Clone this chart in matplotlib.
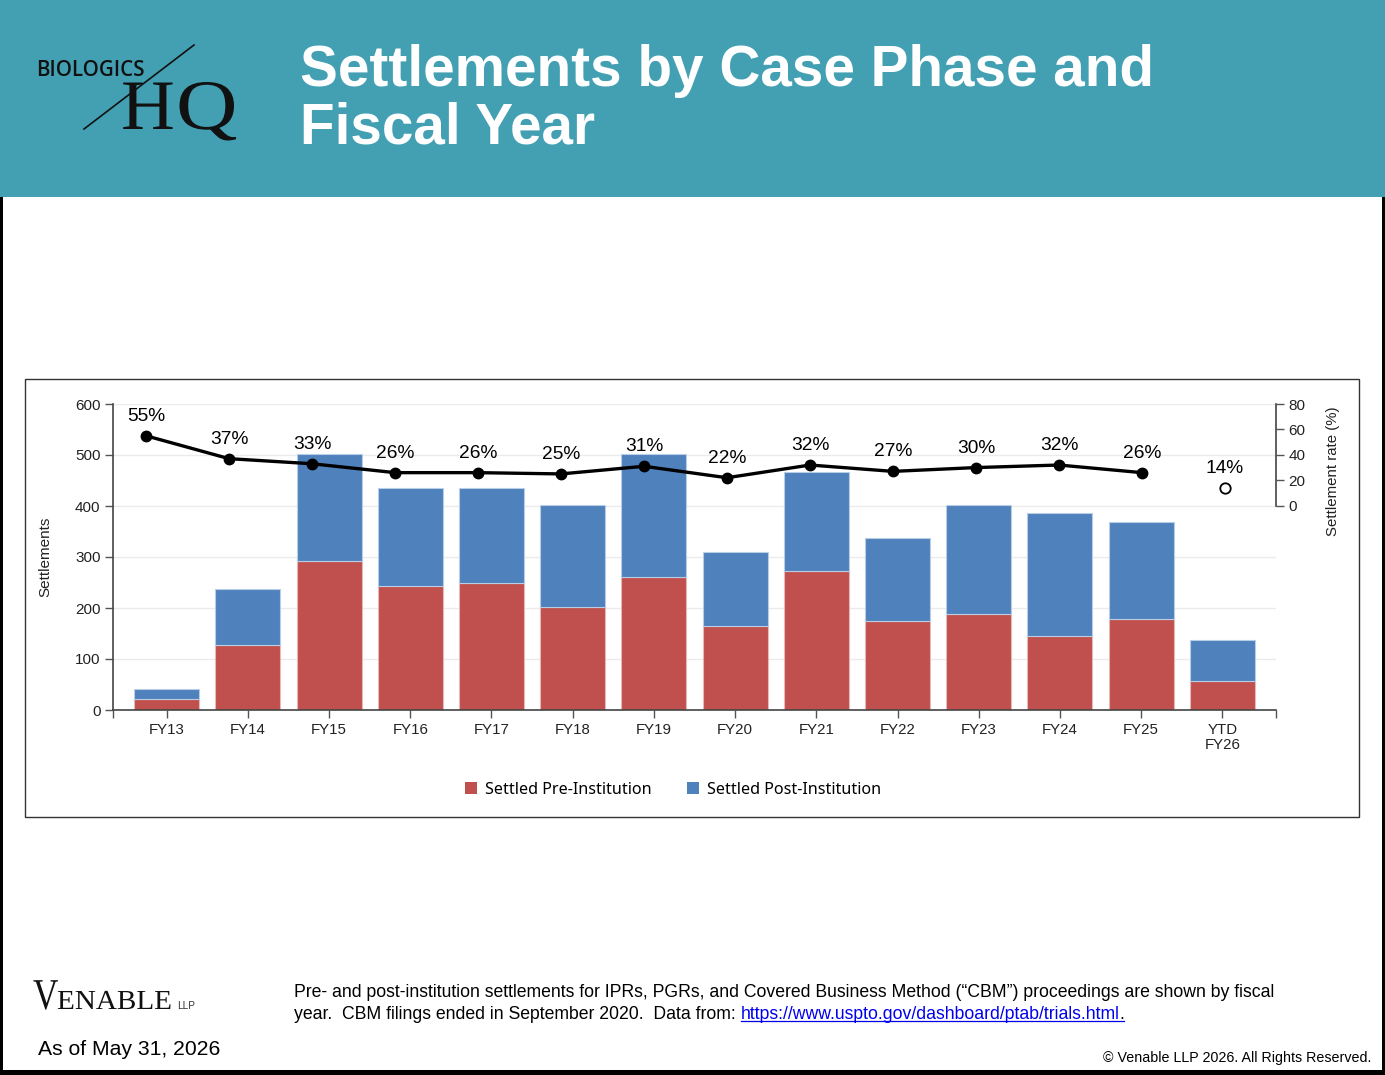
import matplotlib
matplotlib.use("Agg")
import matplotlib.pyplot as plt
import numpy as np
from matplotlib.patches import Rectangle, Patch, PathPatch
from matplotlib.lines import Line2D
from matplotlib.textpath import TextPath
from matplotlib.font_manager import FontProperties
from matplotlib.transforms import Affine2D

# ---------------- data ----------------
categories = ["FY13", "FY14", "FY15", "FY16", "FY17", "FY18", "FY19",
              "FY20", "FY21", "FY22", "FY23", "FY24", "FY25", "YTD\nFY26"]
pre_institution = [21, 127, 292, 243, 250, 201, 260, 164, 272, 174, 189, 146, 178, 56]
total_settled = [41, 237, 502, 436, 436, 401, 502, 309, 466, 338, 401, 387, 368, 137]
post_institution = [t - p for t, p in zip(total_settled, pre_institution)]
settlement_rate = [55, 37, 33, 26, 26, 25, 31, 22, 32, 27, 30, 32, 26]
ytd_rate = [14]
left_ticks = [0, 100, 200, 300, 400, 500, 600]
right_ticks = [0, 20, 40, 60, 80]

title_lines = ["Settlements by Case Phase and", "Fiscal Year"]
legend_labels = ["Settled Pre-Institution", "Settled Post-Institution"]

RED = "#C0504D"
BLUE = "#4F81BD"
TEAL = "#43A0B3"

W, H = 1385, 1075
fig = plt.figure(figsize=(W / 100, H / 100), dpi=100)
fig.patch.set_facecolor("white")


def fx(x):
    return x / W


def fy(y):
    return 1 - y / H


SANS = ["Liberation Sans", "DejaVu Sans"]

# ---------------- header ----------------
fig.add_artist(Rectangle((0, fy(197)), 1, 197 / H, transform=fig.transFigure,
                         facecolor=TEAL, edgecolor="none", zorder=0))
fig.text(fx(300), fy(86), title_lines[0], color="white", fontsize=40.8,
         fontweight="bold", family=SANS, va="baseline", ha="left")
fig.text(fx(300), fy(143), title_lines[1], color="white", fontsize=40.8,
         fontweight="bold", family=SANS, va="baseline", ha="left")


def path_text(s, x, y, em_px, sx=1.0, family="Liberation Serif", weight="normal",
              color="black"):
    tp = TextPath((0, 0), s, size=1, prop=FontProperties(family=family, weight=weight))
    tr = Affine2D().scale(em_px * sx / W, em_px / H).translate(x / W, 1 - y / H) + fig.transFigure
    fig.add_artist(PathPatch(tp, transform=tr, facecolor=color, edgecolor="none", lw=0))


# Biologics HQ logo
fig.text(fx(36), fy(76), "BIOLOGICS", color="#111111", fontsize=14.8,
         family=["Open Sans", "DejaVu Sans"], fontweight="semibold", va="baseline")
fig.add_artist(Line2D([fx(84), fx(194)], [fy(129), fy(45)], color="#111111", lw=1.2,
                      transform=fig.transFigure))
path_text("H", 121, 129, 71, sx=1.05, color="#111111")
path_text("Q", 176, 129, 71, sx=1.2, color="#111111")

# ---------------- borders ----------------
fig.add_artist(Rectangle((0, 0), fx(3), fy(197), transform=fig.transFigure,
                         facecolor="black", edgecolor="none"))
fig.add_artist(Rectangle((fx(1382), 0), fx(3), fy(197), transform=fig.transFigure,
                         facecolor="black", edgecolor="none"))
fig.add_artist(Rectangle((0, 0), 1, 5 / H, transform=fig.transFigure,
                         facecolor="black", edgecolor="none"))

# chart frame
fig.add_artist(Rectangle((fx(25), fy(817)), (1359 - 25) / W, (817 - 379) / H,
                         transform=fig.transFigure, fill=False, edgecolor="#333333", lw=1))

# ---------------- chart ----------------
rect = [fx(113), fy(710), (1276 - 113) / W, (710 - 404) / H]
ax = fig.add_axes(rect)
x = np.arange(len(categories))
ax.set_xlim(-0.66, len(categories) - 1 + 0.66)
ax.set_ylim(0, 600)
ax.set_axisbelow(True)
for t in left_ticks:
    ax.axhline(t, color="#ebebeb", lw=1, zorder=0)
ax.bar(x, pre_institution, width=0.8, color=RED, edgecolor="#e6b9b8", lw=0.8, zorder=2)
ax.bar(x, post_institution, bottom=pre_institution, width=0.8, color=BLUE,
       edgecolor="#b9cde5", lw=0.8, zorder=2)
ax.set_yticks(left_ticks)
ax.set_xticks(x)
ax.set_xticklabels(categories, family=SANS, fontsize=10.8, color="#222222", linespacing=1.1)
ax.set_xticks([-0.66, len(categories) - 1 + 0.66], minor=True)
ax.tick_params(axis="x", which="both", length=6, width=1, color="#555555", pad=3)
ax.tick_params(axis="y", length=6, width=1, color="#555555", labelsize=11,
               labelcolor="#222222", pad=3)
for lbl in ax.get_yticklabels():
    lbl.set_family(SANS)
for s in ["top", "right"]:
    ax.spines[s].set_visible(False)
for s in ["left", "bottom"]:
    ax.spines[s].set_color("#444444")
    ax.spines[s].set_linewidth(1.2)

# settlement-rate line: separate overlay axes with its own point scale
ax2 = fig.add_axes(rect)
ax2.patch.set_visible(False)
ax2.set_ylim(-160.7, 80)
ax2.set_xlim(-0.398, 13.614)
ax2.xaxis.set_visible(False)
ax2.yaxis.tick_right()
ax2.set_yticks(right_ticks)
ax2.tick_params(axis="y", length=6, width=1, color="#555555", labelsize=11,
                labelcolor="#222222", pad=3)
for lbl in ax2.get_yticklabels():
    lbl.set_family(SANS)
for s in ["top", "left", "bottom"]:
    ax2.spines[s].set_visible(False)
ax2.spines["right"].set_bounds(0, 80)
ax2.spines["right"].set_color("#444444")
ax2.spines["right"].set_linewidth(1.2)

n = len(settlement_rate)
ax2.plot(x[:n], settlement_rate, color="black", lw=2.4, marker="o", ms=7.5, zorder=5)
for xi, r in zip(x[:n], settlement_rate):
    ax2.annotate(f"{r}%", (xi, r), xytext=(0, 14), textcoords="offset points",
                 ha="center", va="center", fontsize=13.8, family=SANS, color="black")
ax2.plot(x[n:], ytd_rate, linestyle="none", marker="o", ms=7.5, mfc="white",
         mec="black", mew=1.3, zorder=5)
for xi, r in zip(x[n:], ytd_rate):
    ax2.annotate(f"{r}%", (xi, r), xytext=(0, 14), textcoords="offset points",
                 ha="center", va="center", fontsize=13.8, family=SANS, color="black")

fig.text(fx(45), fy(557), "Settlements", rotation=90, ha="center", va="center",
         fontsize=11, family=SANS, color="#222222")
fig.text(fx(1333), fy(471), "Settlement rate (%)", rotation=90, ha="center", va="center",
         fontsize=10.8, family=SANS, color="#222222")

handles = [Patch(facecolor=RED, edgecolor="none"), Patch(facecolor=BLUE, edgecolor="none")]
fig.legend(handles, legend_labels, loc="center", bbox_to_anchor=(fx(673), fy(790)),
           ncol=2, frameon=False, handlelength=0.75, handleheight=0.75,
           handletextpad=0.5, columnspacing=2.2,
           prop=FontProperties(family=["Noto Sans", "DejaVu Sans"], size=11.6))

# ---------------- footer ----------------
path_text("V", 33, 1009, 44, sx=0.8, color="#111111")
path_text("ENABLE", 57, 1009, 27.5, sx=1.06, color="#111111")
fig.text(fx(177), fy(1009), "LLP", fontsize=7.2, family=SANS, color="#333333", va="baseline")
fig.text(fx(38), fy(1055), "As of May 31, 2026", fontsize=15.2, family=SANS,
         color="black", va="baseline")

FN = 12.7
fig.text(fx(294), fy(997),
         "Pre- and post-institution settlements for IPRs, PGRs, and Covered Business Method (\u201cCBM\u201d) proceedings are shown by fiscal",
         fontsize=FN, family=SANS, color="black", va="baseline")
fig.canvas.draw()
renderer = fig.canvas.get_renderer()
t1 = fig.text(fx(294), fy(1019), "year.  CBM filings ended in September 2020.  Data from: ",
              fontsize=FN, family=SANS, color="black", va="baseline")
bb1 = t1.get_window_extent(renderer)
t2 = fig.text(bb1.x1 / W, fy(1019), "https://www.uspto.gov/dashboard/ptab/trials.html",
              fontsize=FN, family=SANS, color="#0000EE", va="baseline")
bb2 = t2.get_window_extent(renderer)
t3 = fig.text(bb2.x1 / W, fy(1019), ".", fontsize=FN, family=SANS, color="black",
              va="baseline")
bb3 = t3.get_window_extent(renderer)
fig.add_artist(Line2D([bb2.x0 / W, bb3.x1 / W], [fy(1021), fy(1021)], color="#0000EE",
                      lw=0.9, transform=fig.transFigure))

fig.text(fx(1371), fy(1062), "\u00a9 Venable LLP 2026. All Rights Reserved.", fontsize=10.3,
         family=SANS, color="black", ha="right", va="baseline")

fig.savefig("out.png", dpi=100, facecolor="white")
